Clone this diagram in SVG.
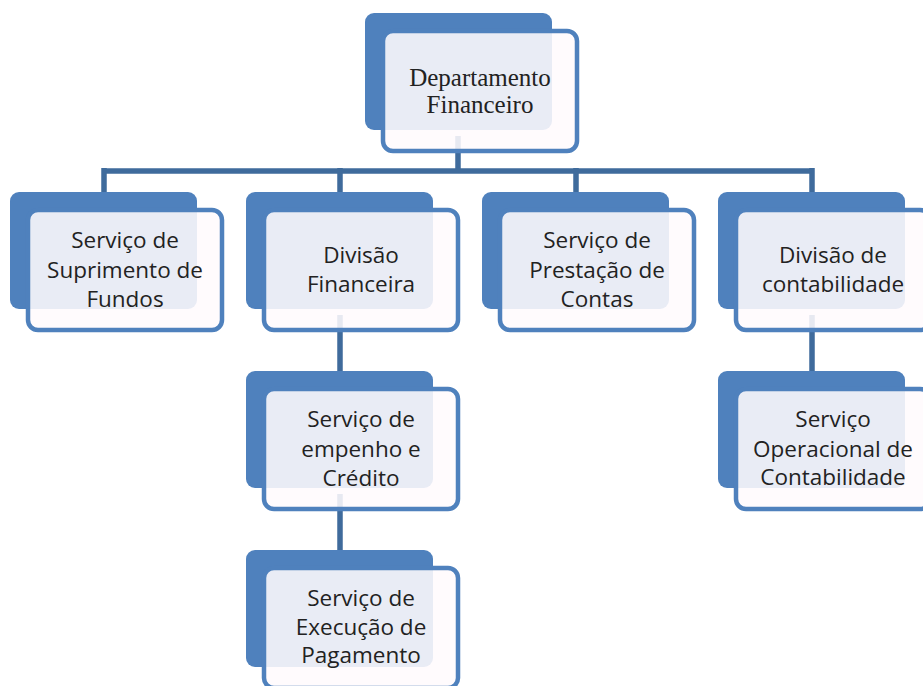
<svg xmlns="http://www.w3.org/2000/svg" width="923" height="686" viewBox="0 0 923 686">
<style>
.back{fill:#4f81bd}
.front{fill:#fffafd;fill-opacity:0.88;stroke:#4f81bd;stroke-width:4.5}
.conn{stroke:#3f6b9c;stroke-width:5.5;fill:none}
.t{font-family:"Open Sans","Liberation Sans",sans-serif;font-size:22.5px;fill:#222;text-anchor:middle}
.ts{font-family:"Liberation Serif","Times New Roman",serif;font-size:25px;fill:#222;text-anchor:middle}
</style>
<rect width="923" height="686" fill="#fff"/>
<g id="connectors">
<path class="conn" d="M458 136V171M104 171H812M104 168V210M340 168V210M576 168V210M812 168V210M340 315V380M340 494V560M812 315V380"/>
</g>
<g id="n-dep" transform="translate(365,13)">
<rect class="back" width="187" height="117" rx="9"/>
<rect class="front" x="18" y="18" width="194" height="120" rx="10"/>
<text class="ts"><tspan x="115" y="73">Departamento</tspan><tspan x="115" y="100">Financeiro</tspan></text>
</g>
<g id="n-sup" transform="translate(10,192)">
<rect class="back" width="187" height="117" rx="9"/>
<rect class="front" x="18" y="18" width="194" height="120" rx="10"/>
<text class="t"><tspan x="115" y="56">Serviço de</tspan><tspan x="115" y="86">Suprimento de</tspan><tspan x="115" y="115">Fundos</tspan></text>
</g>
<g id="n-div" transform="translate(246,192)">
<rect class="back" width="187" height="117" rx="9"/>
<rect class="front" x="18" y="18" width="194" height="120" rx="10"/>
<text class="t"><tspan x="115" y="71">Divisão</tspan><tspan x="115" y="100">Financeira</tspan></text>
</g>
<g id="n-pre" transform="translate(482,192)">
<rect class="back" width="187" height="117" rx="9"/>
<rect class="front" x="18" y="18" width="194" height="120" rx="10"/>
<text class="t"><tspan x="115" y="56">Serviço de</tspan><tspan x="115" y="86">Prestação de</tspan><tspan x="115" y="115">Contas</tspan></text>
</g>
<g id="n-con" transform="translate(718,192)">
<rect class="back" width="187" height="117" rx="9"/>
<rect class="front" x="18" y="18" width="194" height="120" rx="10"/>
<text class="t"><tspan x="115" y="71">Divisão de</tspan><tspan x="115" y="100">contabilidade</tspan></text>
</g>
<g id="n-emp" transform="translate(246,371)">
<rect class="back" width="187" height="117" rx="9"/>
<rect class="front" x="18" y="18" width="194" height="120" rx="10"/>
<text class="t"><tspan x="115" y="56">Serviço de</tspan><tspan x="115" y="86">empenho e</tspan><tspan x="115" y="115">Crédito</tspan></text>
</g>
<g id="n-ope" transform="translate(718,371)">
<rect class="back" width="187" height="117" rx="9"/>
<rect class="front" x="18" y="18" width="194" height="120" rx="10"/>
<text class="t"><tspan x="115" y="56">Serviço</tspan><tspan x="115" y="86">Operacional de</tspan><tspan x="115" y="114">Contabilidade</tspan></text>
</g>
<g id="n-exe" transform="translate(246,550)">
<rect class="back" width="187" height="117" rx="9"/>
<rect class="front" x="18" y="18" width="194" height="120" rx="10"/>
<text class="t"><tspan x="115" y="56">Serviço de</tspan><tspan x="115" y="85">Execução de</tspan><tspan x="115" y="113">Pagamento</tspan></text>
</g>
</svg>
